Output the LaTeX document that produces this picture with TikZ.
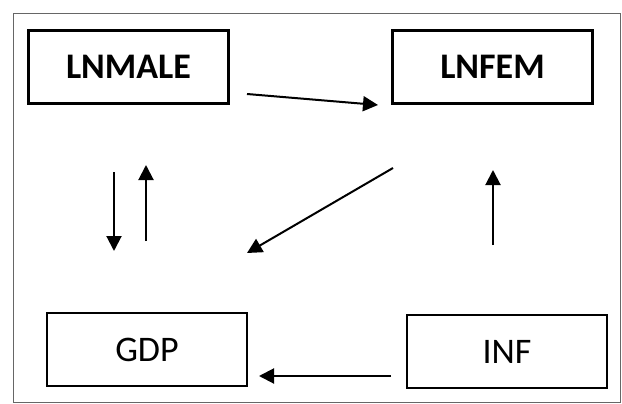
\documentclass[tikz,border=0pt]{standalone}
\usepackage{fontspec}
\setmainfont{Carlito}
\usetikzlibrary{arrows.meta}

\begin{document}
\begin{tikzpicture}[x=1pt,y=-1pt]

\tikzset{var/.style = {shape=rectangle,draw,line width=2.4pt,minimum width=200pt,minimum height=73pt,inner sep=0pt,font=\fontsize{36}{42}\selectfont}}
\tikzset{edge/.style = {line width=2pt,-{Triangle[length=15pt,width=15pt]}}}
\useasboundingbox (0,0) rectangle (622,404);
\draw[draw=black!60, line width=1pt] (13,14) rectangle (620,402);
%variables
\node[var, font=\fontsize{36}{42}\selectfont\bfseries] (male) at (128.5,67) {LNMALE};
\node[var, font=\fontsize{36}{42}\selectfont\bfseries] (fem) at (492.5,67) {LNFEM};
\node[var] (gdp) at (147,349.5) {GDP};
\node[var] (inf) at (507,351.5) {INF};
%arrow ends
\coordinate (male-a) at (247,94);
\coordinate (fem-a) at (378,105);
\coordinate (male-b) at (114,172);
\coordinate (gdp-b) at (114,251);
\coordinate (gdp-c) at (146,241);
\coordinate (male-c) at (146,165);
\coordinate (fem-d) at (393,168);
\coordinate (gdp-d) at (247,253);
\coordinate (inf-e) at (493,245);
\coordinate (fem-e) at (493,170);
\coordinate (inf-f) at (391,376);
\coordinate (gdp-f) at (259,376);
%edges
\draw [edge] (male-a) -- (fem-a);
\draw [edge] (male-b) -- (gdp-b);
\draw [edge] (gdp-c) -- (male-c);
\draw [edge] (fem-d) -- (gdp-d);
\draw [edge] (inf-e) -- (fem-e);
\draw [edge] (inf-f) -- (gdp-f);

\end{tikzpicture}
\end{document}
